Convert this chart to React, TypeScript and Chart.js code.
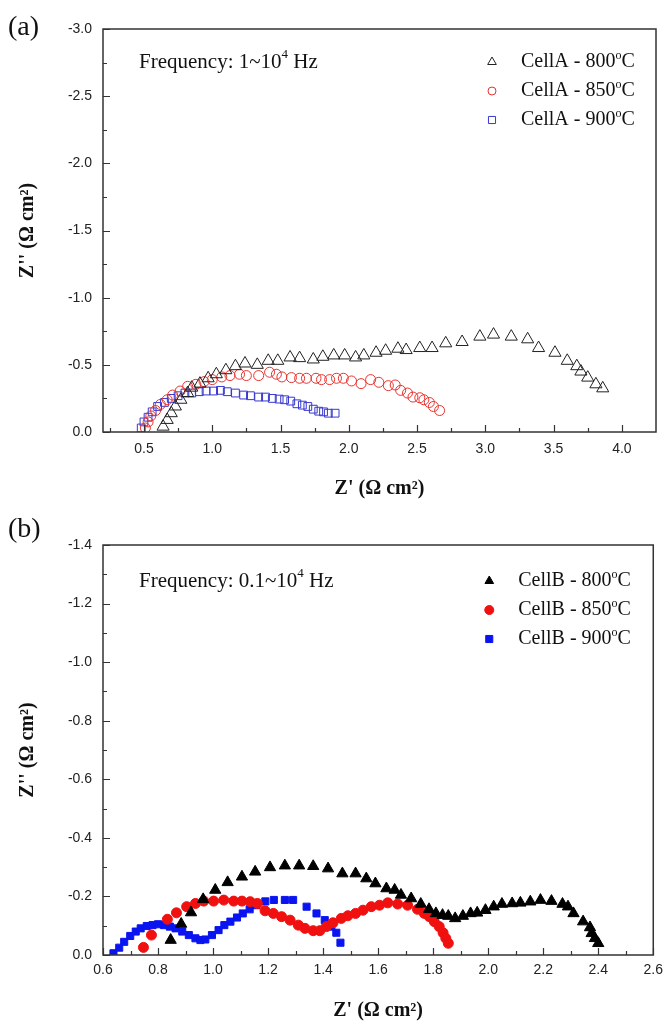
import { useEffect, useRef } from 'react';
import { Chart, registerables } from 'chart.js';
import { drawPoint } from 'chart.js/helpers';

Chart.register(...registerables);

// ---------- Panel (a) data ----------
const A800_X = [0.64, 0.67, 0.70, 0.73, 0.77, 0.82, 0.85, 0.91, 0.97, 1.03, 1.10, 1.17, 1.24, 1.33, 1.41, 1.48, 1.57, 1.64, 1.74, 1.81, 1.89, 1.97, 2.05, 2.11, 2.20, 2.27, 2.36, 2.42, 2.52, 2.61, 2.71, 2.83, 2.96, 3.06, 3.19, 3.31, 3.39, 3.51, 3.60, 3.67, 3.70, 3.75, 3.81, 3.86];
const A800_Y = [-0.04, -0.09, -0.14, -0.19, -0.24, -0.29, -0.33, -0.36, -0.40, -0.43, -0.46, -0.49, -0.51, -0.50, -0.53, -0.53, -0.555, -0.55, -0.54, -0.56, -0.57, -0.57, -0.555, -0.57, -0.59, -0.605, -0.62, -0.61, -0.625, -0.625, -0.66, -0.67, -0.71, -0.725, -0.71, -0.69, -0.625, -0.59, -0.53, -0.49, -0.45, -0.405, -0.355, -0.325];

const A850_X = [0.51, 0.53, 0.55, 0.585, 0.62, 0.67, 0.71, 0.765, 0.82, 0.88, 0.94, 1.00, 1.07, 1.13, 1.20, 1.25, 1.34, 1.42, 1.47, 1.51, 1.58, 1.64, 1.69, 1.76, 1.80, 1.86, 1.91, 1.96, 2.02, 2.09, 2.16, 2.22, 2.29, 2.34, 2.38, 2.43, 2.47, 2.52, 2.55, 2.59, 2.62, 2.665];
const A850_Y = [-0.03, -0.075, -0.12, -0.16, -0.205, -0.24, -0.275, -0.305, -0.34, -0.355, -0.375, -0.39, -0.41, -0.42, -0.43, -0.42, -0.42, -0.445, -0.43, -0.41, -0.405, -0.40, -0.40, -0.40, -0.39, -0.39, -0.40, -0.40, -0.38, -0.36, -0.39, -0.37, -0.345, -0.35, -0.31, -0.29, -0.26, -0.255, -0.24, -0.22, -0.19, -0.16];

const A900_X = [0.48, 0.50, 0.53, 0.56, 0.60, 0.65, 0.70, 0.75, 0.80, 0.85, 0.905, 0.955, 1.01, 1.06, 1.11, 1.17, 1.23, 1.28, 1.34, 1.39, 1.44, 1.49, 1.53, 1.575, 1.62, 1.66, 1.70, 1.74, 1.78, 1.815, 1.85, 1.90];
const A900_Y = [-0.03, -0.075, -0.11, -0.15, -0.19, -0.22, -0.25, -0.27, -0.29, -0.29, -0.30, -0.305, -0.305, -0.31, -0.30, -0.29, -0.275, -0.27, -0.26, -0.26, -0.25, -0.245, -0.24, -0.23, -0.21, -0.20, -0.19, -0.17, -0.155, -0.15, -0.14, -0.14];

const A_LABELS = ['CellA - 800', 'CellA - 850', 'CellA - 900'];
const A_X_MAJOR = [0.5, 1.0, 1.5, 2.0, 2.5, 3.0, 3.5, 4.0];
const A_X_MINOR = [0.25, 0.75, 1.25, 1.75, 2.25, 2.75, 3.25, 3.75];
const A_Y_MAJOR = [0, -0.5, -1.0, -1.5, -2.0, -2.5, -3.0];
const A_Y_MINOR = [-0.25, -0.75, -1.25, -1.75, -2.25, -2.75];

// ---------- Panel (b) data ----------
const B800_X = [0.846, 0.884, 0.92, 0.964, 1.008, 1.053, 1.105, 1.153, 1.207, 1.261, 1.313, 1.364, 1.418, 1.47, 1.518, 1.557, 1.59, 1.63, 1.66, 1.683, 1.72, 1.755, 1.785, 1.81, 1.834, 1.855, 1.88, 1.908, 1.936, 1.96, 1.99, 2.02, 2.05, 2.087, 2.117, 2.153, 2.19, 2.23, 2.27, 2.29, 2.31, 2.345, 2.37, 2.376, 2.388, 2.40];
const B800_Y = [-0.051, -0.106, -0.145, -0.19, -0.222, -0.248, -0.267, -0.284, -0.299, -0.305, -0.305, -0.303, -0.295, -0.278, -0.278, -0.261, -0.244, -0.227, -0.222, -0.205, -0.193, -0.174, -0.156, -0.142, -0.136, -0.133, -0.125, -0.133, -0.142, -0.144, -0.153, -0.165, -0.174, -0.176, -0.178, -0.182, -0.1875, -0.184, -0.174, -0.165, -0.142, -0.114, -0.094, -0.074, -0.057, -0.04];

const B850_X = [0.747, 0.776, 0.834, 0.867, 0.904, 0.936, 0.966, 1.002, 1.039, 1.075, 1.105, 1.135, 1.161, 1.189, 1.219, 1.249, 1.28, 1.31, 1.334, 1.364, 1.388, 1.412, 1.436, 1.466, 1.49, 1.518, 1.545, 1.575, 1.605, 1.635, 1.671, 1.707, 1.743, 1.768, 1.786, 1.804, 1.822, 1.836, 1.846, 1.855];
const B850_Y = [-0.026, -0.068, -0.122, -0.144, -0.165, -0.176, -0.184, -0.184, -0.1875, -0.184, -0.184, -0.182, -0.176, -0.151, -0.142, -0.131, -0.119, -0.102, -0.091, -0.083, -0.083, -0.097, -0.110, -0.125, -0.134, -0.142, -0.153, -0.165, -0.170, -0.178, -0.174, -0.170, -0.156, -0.142, -0.131, -0.114, -0.097, -0.076, -0.057, -0.04];

const B900_X = [0.638, 0.659, 0.677, 0.699, 0.719, 0.737, 0.759, 0.78, 0.80, 0.822, 0.843, 0.864, 0.888, 0.912, 0.936, 0.954, 0.972, 0.996, 1.02, 1.041, 1.063, 1.087, 1.108, 1.133, 1.157, 1.19, 1.221, 1.261, 1.291, 1.34, 1.376, 1.406, 1.43, 1.448, 1.463];
const B900_Y = [-0.006, -0.025, -0.045, -0.065, -0.08, -0.091, -0.099, -0.102, -0.105, -0.102, -0.097, -0.091, -0.08, -0.068, -0.057, -0.051, -0.053, -0.068, -0.085, -0.102, -0.114, -0.128, -0.142, -0.156, -0.170, -0.183, -0.188, -0.188, -0.188, -0.165, -0.142, -0.119, -0.097, -0.076, -0.042];

const B_LABELS = ['CellB - 800', 'CellB - 850', 'CellB - 900'];
const B_X_MAJOR = [0.6, 0.8, 1.0, 1.2, 1.4, 1.6, 1.8, 2.0, 2.2, 2.4, 2.6];
const B_X_MINOR = [0.7, 0.9, 1.1, 1.3, 1.5, 1.7, 1.9, 2.1, 2.3, 2.5];
const B_Y_MAJOR = [0, -0.2, -0.4, -0.6, -0.8, -1.0, -1.2, -1.4];
const B_Y_MINOR = [-0.1, -0.3, -0.5, -0.7, -0.9, -1.1, -1.3];

const SERIF = '"Liberation Serif", "Times New Roman", serif';
const SANS = '"Liberation Sans", Arial, sans-serif';

function pts(xs: number[], ys: number[]) {
  return xs.map((x, i) => ({ x, y: ys[i] }));
}

type Part = [string, boolean];

function drawRich(ctx: CanvasRenderingContext2D, parts: Part[], x: number, y: number, size: number) {
  let cx = x;
  for (const [t, sup] of parts) {
    const s = sup ? Math.round(size * 0.6) : size;
    ctx.font = `${s}px ${SERIF}`;
    ctx.fillText(t, cx, sup ? y - size * 0.33 : y);
    cx += ctx.measureText(t).width;
  }
}

function makeDecor(cfg: {
  panel: string;
  panelY: number;
  freq: Part[];
  xMajor: number[]; xMinor: number[]; yMajor: number[]; yMinor: number[];
  legendTop: number;
  legendMarkerR: number[];
}) {
  return {
    id: 'decor',
    afterDraw(chart: any) {
      const { ctx, chartArea: ca } = chart;
      const xs = chart.scales.x;
      const ys = chart.scales.y;
      ctx.save();
      // frame
      ctx.strokeStyle = '#333';
      ctx.lineWidth = 1.5;
      ctx.strokeRect(ca.left, ca.top, ca.right - ca.left, ca.bottom - ca.top);
      // inward ticks
      ctx.lineWidth = 1.2;
      ctx.beginPath();
      const tickX = (v: number, len: number) => {
        const p = Math.round(xs.getPixelForValue(v)) + 0.5;
        ctx.moveTo(p, ca.bottom); ctx.lineTo(p, ca.bottom - len);
      };
      const tickY = (v: number, len: number) => {
        const p = Math.round(ys.getPixelForValue(v)) + 0.5;
        ctx.moveTo(ca.left, p); ctx.lineTo(ca.left + len, p);
      };
      cfg.xMajor.forEach((v) => tickX(v, 7));
      cfg.xMinor.forEach((v) => tickX(v, 4));
      cfg.yMajor.forEach((v) => tickY(v, 7));
      cfg.yMinor.forEach((v) => tickY(v, 4));
      ctx.stroke();

      // panel label
      ctx.fillStyle = '#111';
      ctx.textBaseline = 'middle';
      ctx.textAlign = 'left';
      ctx.font = `28px ${SERIF}`;
      ctx.fillText(cfg.panel, 8, cfg.panelY);

      // frequency text
      drawRich(ctx, cfg.freq, ca.left + 36, ca.top + cfg.legendTop, 21);

      // legend
      chart.data.datasets.forEach((ds: any, i: number) => {
        const y = ca.top + cfg.legendTop + i * 29;
        const mx = ca.right - 164;
        ctx.save();
        ctx.strokeStyle = ds.borderColor;
        ctx.fillStyle = ds.backgroundColor;
        ctx.lineWidth = ds.borderWidth;
        drawPoint(ctx, { pointStyle: ds.pointStyle, rotation: 0, radius: cfg.legendMarkerR[i], borderWidth: ds.borderWidth }, mx, y);
        ctx.restore();
        ctx.fillStyle = '#111';
        ctx.textBaseline = 'middle';
        drawRich(ctx, [[ds.label, false], ['o', true], ['C', false]], ca.right - 135, y, 20);
      });
      ctx.restore();
    },
  };
}

function baseOptions(o: {
  xmin: number; xmax: number; ymin: number; ymax: number;
  xMajor: number[]; yMajor: number[];
  top: number; xAxisH: number; xTitlePad: number; xTickPad: number;
}) {
  return {
    animation: false,
    responsive: false,
    events: [],
    layout: { padding: { left: 0, top: o.top, right: 14, bottom: 0 } },
    plugins: { legend: { display: false }, tooltip: { enabled: false } },
    scales: {
      x: {
        type: 'linear',
        min: o.xmin,
        max: o.xmax,
        grid: { display: false, drawTicks: false },
        border: { display: false },
        afterBuildTicks: (s: any) => { s.ticks = o.xMajor.map((v) => ({ value: v })); },
        afterFit: (s: any) => { s.height = o.xAxisH; },
        ticks: {
          padding: o.xTickPad,
          autoSkip: false,
          maxRotation: 0,
          color: '#222',
          font: { family: SANS, size: 14 },
          callback: (v: any) => Number(v).toFixed(1),
        },
        title: {
          display: true,
          text: "Z' (Ω cm²)",
          color: '#111',
          font: { family: SERIF, size: 20, weight: 'bold' },
          padding: { top: 0, bottom: o.xTitlePad },
        },
      },
      y: {
        type: 'linear',
        min: o.ymin,
        max: o.ymax,
        reverse: true,
        grid: { display: false, drawTicks: false },
        border: { display: false },
        afterBuildTicks: (s: any) => { s.ticks = o.yMajor.map((v) => ({ value: v })); },
        afterFit: (s: any) => { s.width = 103; },
        ticks: {
          padding: 11,
          autoSkip: false,
          color: '#222',
          font: { family: SANS, size: 14 },
          callback: (v: any) => Number(v).toFixed(1),
        },
        title: {
          display: true,
          text: "Z'' (Ω cm²)",
          color: '#111',
          font: { family: SERIF, size: 20, weight: 'bold' },
          padding: { top: 16, bottom: 0 },
        },
      },
    },
  };
}

export default function App() {
  const refA = useRef<HTMLCanvasElement | null>(null);
  const refB = useRef<HTMLCanvasElement | null>(null);

  useEffect(() => {
    const chartA = new Chart(refA.current as HTMLCanvasElement, {
      type: 'scatter',
      data: {
        datasets: [
          { label: A_LABELS[0], data: pts(A800_X, A800_Y), pointStyle: 'triangle', pointRadius: 7, borderColor: '#222', backgroundColor: 'rgba(0,0,0,0)', borderWidth: 1 },
          { label: A_LABELS[1], data: pts(A850_X, A850_Y), pointStyle: 'circle', pointRadius: 5, borderColor: '#e8322e', backgroundColor: 'rgba(0,0,0,0)', borderWidth: 1 },
          { label: A_LABELS[2], data: pts(A900_X, A900_Y), pointStyle: 'rect', pointRadius: 5.5, borderColor: '#3838d0', backgroundColor: 'rgba(0,0,0,0)', borderWidth: 1 },
        ],
      },
      options: baseOptions({ xmin: 0.2, xmax: 4.25, ymin: -3.0, ymax: 0, xMajor: A_X_MAJOR, yMajor: A_Y_MAJOR, top: 29, xAxisH: 80, xTitlePad: 11, xTickPad: 9 }) as any,
      plugins: [makeDecor({
        panel: '(a)', panelY: 28,
        freq: [['Frequency: 1~10', false], ['4', true], [' Hz', false]],
        xMajor: A_X_MAJOR, xMinor: A_X_MINOR, yMajor: A_Y_MAJOR, yMinor: A_Y_MINOR,
        legendTop: 33, legendMarkerR: [5, 4, 5],
      })],
    });

    const chartB = new Chart(refB.current as HTMLCanvasElement, {
      type: 'scatter',
      data: {
        datasets: [
          { label: B_LABELS[0], data: pts(B800_X, B800_Y), pointStyle: 'triangle', pointRadius: 6.5, borderColor: '#000', backgroundColor: '#000', borderWidth: 1 },
          { label: B_LABELS[1], data: pts(B850_X, B850_Y), pointStyle: 'circle', pointRadius: 5, borderColor: '#f01010', backgroundColor: '#f01010', borderWidth: 1 },
          { label: B_LABELS[2], data: pts(B900_X, B900_Y), pointStyle: 'rect', pointRadius: 5, borderColor: '#0a14f0', backgroundColor: '#0a14f0', borderWidth: 1 },
        ],
      },
      options: baseOptions({ xmin: 0.6, xmax: 2.6, ymin: -1.4, ymax: 0, xMajor: B_X_MAJOR, yMajor: B_Y_MAJOR, top: 33, xAxisH: 68, xTitlePad: 0, xTickPad: 7 }) as any,
      plugins: [makeDecor({
        panel: '(b)', panelY: 18,
        freq: [['Frequency: 0.1~10', false], ['4', true], [' Hz', false]],
        xMajor: B_X_MAJOR, xMinor: B_X_MINOR, yMajor: B_Y_MAJOR, yMinor: B_Y_MINOR,
        legendTop: 36, legendMarkerR: [5, 4.5, 5],
      })],
    });

    return () => {
      chartA.destroy();
      chartB.destroy();
    };
  }, []);

  return (
    <div style={{ position: 'absolute', left: 0, top: 0, width: 670, height: 1023, background: '#fff' }}>
      <canvas ref={refA} width={670} height={512} style={{ display: 'block', width: 670, height: 512 }} />
      <canvas ref={refB} width={670} height={511} style={{ display: 'block', width: 670, height: 511 }} />
    </div>
  );
}
